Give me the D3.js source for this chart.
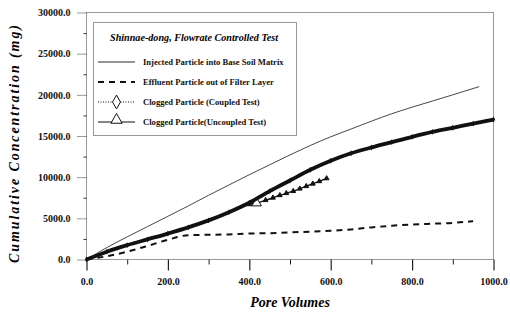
<!DOCTYPE html>
<html><head><meta charset="utf-8">
<script src="https://cdn.jsdelivr.net/npm/d3@7/dist/d3.min.js"></script>
<style>body{margin:0;background:#fff}svg{display:block}</style>
</head><body><svg id="c" width="510" height="314"></svg>
<script>
const xTicks = [0, 200, 400, 600, 800, 1000];
const yTicks = [0, 5000, 10000, 15000, 20000, 25000, 30000];
const injected = [[0,0],[50,1450],[100,2750],[150,4000],[200,5250],[250,6500],[300,7800],[350,9050],[400,10300],[450,11500],[500,12700],[550,13850],[600,14900],[650,15850],[700,16800],[750,17700],[800,18500],[850,19250],[900,20000],[965,21000]];
const effluent = [[0,0],[50,400],[100,950],[150,1650],[200,2400],[250,2950],[300,3000],[350,3050],[400,3150],[450,3200],[500,3300],[550,3380],[600,3500],[650,3650],[700,3900],[750,4100],[800,4250],[850,4350],[900,4450],[950,4650]];
const coupled = [[0,0],[50,950],[100,1750],[150,2450],[200,3150],[250,3900],[300,4750],[350,5750],[400,6900],[450,8300],[500,9600],[550,10900],[600,12000],[650,12900],[700,13600],[750,14250],[800,14900],[850,15500],[900,16000],[950,16500],[1000,17000]];
const uncoupled = [[0,0],[50,950],[100,1750],[150,2450],[200,3150],[250,3900],[300,4750],[350,5750],[400,6700],[418,6850],[440,7200],[458,7500],[475,7800],[491,8050],[508,8300],[524,8600],[540,8900],[556,9200],[572,9500],[590,9850]];
const legendTitle = "Shinnae-dong, Flowrate Controlled Test";
const legendLabels = ["Injected Particle into Base Soil Matrix","Effluent Particle out of Filter Layer","Clogged Particle (Coupled Test)","Clogged Particle(Uncoupled Test)"];

const svg = d3.select("#c");
const L = 86.5, R = 493.5, T = 12.5, B = 259.5;
const x = d3.scaleLinear().domain([0,1000]).range([L,R]);
const y = d3.scaleLinear().domain([0,30000]).range([B,T]);
const serif = "'Liberation Serif','Times New Roman',serif";

const frame = svg.append("g").attr("stroke","#333").attr("stroke-width",1).attr("stroke-dasharray","1,1").attr("fill","none");
frame.append("rect").attr("x",L).attr("y",T).attr("width",R-L).attr("height",B-T);

const xa = svg.append("g").attr("transform",`translate(0,${B})`)
  .call(d3.axisBottom(x).tickValues(xTicks).tickFormat(d3.format(".1f")).tickSize(11).tickPadding(8));
xa.select(".domain").remove();
xa.selectAll(".tick line").attr("stroke","#222").attr("stroke-width",1.2);
xa.selectAll(".tick text").attr("font-family",serif).attr("font-weight","bold").attr("font-size",10).attr("fill","#111").attr("dy","0.6em");
const xm = svg.append("g").attr("transform",`translate(0,${B})`)
  .call(d3.axisBottom(x).tickValues(d3.range(100,1000,200)).tickFormat("").tickSize(5));
xm.select(".domain").remove();
xm.selectAll(".tick line").attr("stroke","#222");

const ya = svg.append("g").attr("transform",`translate(${L},0)`)
  .call(d3.axisLeft(y).tickValues(yTicks).tickFormat(d3.format(".1f")).tickSize(10).tickPadding(6));
ya.select(".domain").remove();
ya.selectAll(".tick line").attr("stroke","#333").attr("stroke-dasharray","1,1");
ya.selectAll(".tick text").attr("font-family",serif).attr("font-weight","bold").attr("font-size",10).attr("fill","#111");
const ym = svg.append("g").attr("transform",`translate(${L},0)`)
  .call(d3.axisLeft(y).tickValues(d3.range(2500,30000,5000)).tickFormat("").tickSize(3));
ym.select(".domain").remove();
ym.selectAll(".tick line").attr("stroke","#333");

svg.append("text").attr("transform","translate(19,144) rotate(-90)").attr("text-anchor","middle")
  .attr("font-family",serif).attr("font-weight","bold").attr("font-style","italic").attr("font-size",14)
  .attr("textLength",238).attr("lengthAdjust","spacing").text("Cumulative Concentration (mg)");
svg.append("text").attr("x",290).attr("y",307).attr("text-anchor","middle")
  .attr("font-family",serif).attr("font-weight","bold").attr("font-style","italic").attr("font-size",14)
  .text("Pore Volumes");

const line = d3.line().x(d=>x(d[0])).y(d=>y(d[1])).curve(d3.curveMonotoneX);

svg.append("path").datum(injected).attr("d",line).attr("fill","none").attr("stroke","#333").attr("stroke-width",0.9);
svg.append("path").datum(effluent).attr("d",line).attr("fill","none").attr("stroke","#111").attr("stroke-width",2).attr("stroke-dasharray","6,5");
svg.append("path").datum(uncoupled).attr("d",line).attr("fill","none").attr("stroke","#111").attr("stroke-width",1.4);
svg.append("g").selectAll("path").data(uncoupled.slice(8)).join("path")
  .attr("transform",d=>`translate(${x(d[0])},${y(d[1])})`)
  .attr("d",(d,i)=>d3.symbol(d3.symbolTriangle, i===1?40:10)())
  .attr("fill",(d,i)=>i===1?"#fff":"#111").attr("stroke","#111").attr("stroke-width",1);
svg.append("path").datum(coupled).attr("d",line).attr("fill","none").attr("stroke","#111").attr("stroke-width",3.8);
svg.append("g").selectAll("path").data(coupled).join("path")
  .attr("transform",d=>`translate(${x(d[0])},${y(d[1])})`)
  .attr("d",d3.symbol(d3.symbolDiamond,10)()).attr("fill","#111");

const lg = svg.append("g");
lg.append("rect").attr("x",93.5).attr("y",22.5).attr("width",203).attr("height",113)
  .attr("fill","#fff").attr("stroke","#333").attr("stroke-dasharray","1,1");
lg.append("text").attr("x",110).attr("y",41).attr("font-family",serif).attr("font-weight","bold").attr("font-style","italic")
  .attr("font-size",9.5).attr("textLength",168).attr("lengthAdjust","spacingAndGlyphs").text(legendTitle);
const ly = [62,82,102,122];
const styles = [{w:0.9,dash:null},{w:2,dash:"6,5"},{w:1,dash:"1,1.5"},{w:1.2,dash:null}];
legendLabels.forEach((t,i)=>{
  lg.append("line").attr("x1",98).attr("x2",135).attr("y1",ly[i]).attr("y2",ly[i])
    .attr("stroke","#111").attr("stroke-width",styles[i].w).attr("stroke-dasharray",styles[i].dash);
  lg.append("text").attr("x",143).attr("y",ly[i]+3).attr("font-family",serif).attr("font-weight","bold")
    .attr("font-size",8.6).attr("fill","#111").text(t);
});
lg.append("path").attr("transform",`translate(116.5,${ly[2]})`).attr("d",d3.symbol(d3.symbolDiamond,55)())
  .attr("fill","#fff").attr("stroke","#111").attr("stroke-width",1);
lg.append("path").attr("transform",`translate(116.5,${ly[3]-2})`).attr("d",d3.symbol(d3.symbolTriangle,55)())
  .attr("fill","#fff").attr("stroke","#111").attr("stroke-width",1);
</script></body></html>
